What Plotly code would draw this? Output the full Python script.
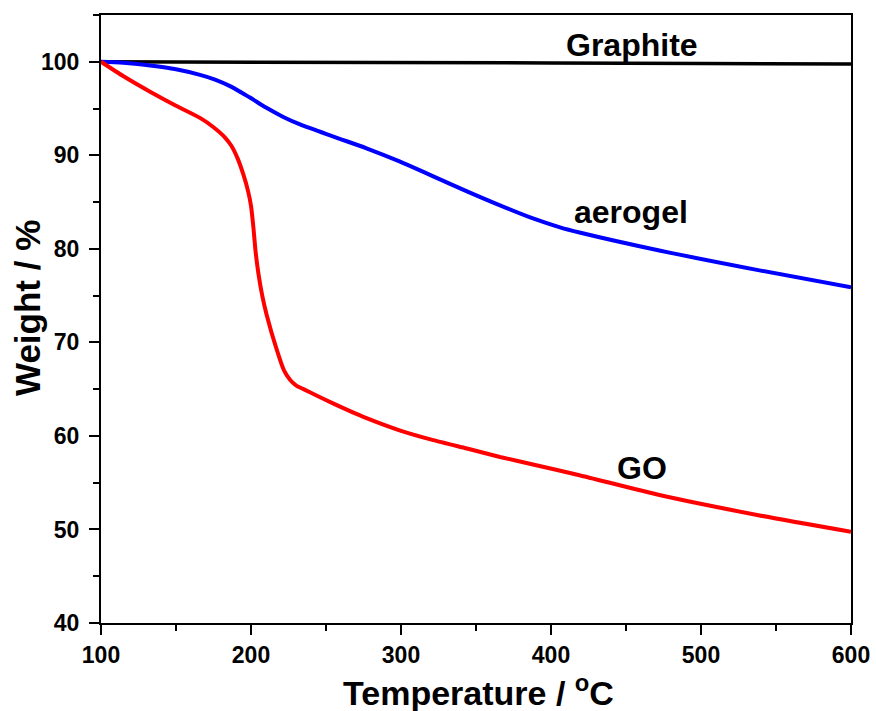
import plotly.graph_objects as go

# Graphite
graphite_T = [100, 200, 300, 400, 500, 600]
graphite_W = [100.0, 99.98, 99.93, 99.88, 99.82, 99.75]

# Aerogel
aerogel_T = [100, 115, 132.7, 150, 166, 176, 186, 199, 210, 221.5, 232.7, 255, 277, 299, 321.5, 344, 366, 388, 406, 419, 473, 539, 600]
aerogel_W = [100, 99.9, 99.6, 99.2, 98.6, 98.1, 97.4, 96.2, 95.1, 94.1, 93.3, 92.0, 90.75, 89.35, 87.75, 86.15, 84.65, 83.25, 82.3, 81.75, 79.8, 77.7, 75.9]

# GO
go_T = [100, 115, 132.7, 150, 166, 175, 182.7, 187, 191, 195, 198, 200, 201.6, 203, 205, 207.5, 210.5, 217, 222, 226, 230, 235, 244, 255, 266, 277, 299, 321.5, 344, 366, 388, 419, 473, 539, 600]
go_W = [100, 98.45, 96.8, 95.3, 94.0, 93.0, 91.9, 91.0, 89.7, 87.9, 86.2, 84.6, 82.3, 79.8, 77.3, 75.0, 72.9, 69.3, 67.0, 66.0, 65.4, 65.0, 64.3, 63.45, 62.65, 61.9, 60.6, 59.55, 58.65, 57.75, 56.95, 55.8, 53.65, 51.5, 49.75]

x_ticks = [100, 200, 300, 400, 500, 600]
y_ticks = [40, 50, 60, 70, 80, 90, 100]

FONT = "Liberation Sans, Arial, sans-serif"

fig = go.Figure()
fig.add_trace(go.Scatter(x=graphite_T, y=graphite_W, mode="lines",
                         line=dict(color="black", width=3.5), name="Graphite"))
fig.add_trace(go.Scatter(x=aerogel_T, y=aerogel_W, mode="lines",
                         line=dict(color="#0000ff", width=4, shape="spline", smoothing=0.8), name="aerogel"))
fig.add_trace(go.Scatter(x=go_T, y=go_W, mode="lines",
                         line=dict(color="#ff0000", width=4, shape="spline", smoothing=0.6), name="GO"))

fig.update_layout(
    width=876, height=711,
    margin=dict(l=101, r=25, t=15, b=88, autoexpand=False),
    paper_bgcolor="white", plot_bgcolor="white",
    showlegend=False,
    font=dict(family=FONT, color="black"),
)

fig.update_xaxes(
    range=[100, 600], tickvals=x_ticks, ticktext=[f"<b>{v}</b>" for v in x_ticks],
    ticks="outside", ticklen=10, tickwidth=2, tickcolor="black",
    minor=dict(dtick=50, tick0=100, ticks="outside", ticklen=6, tickwidth=2, tickcolor="black"),
    showline=True, linewidth=2, linecolor="black", mirror=True,
    showgrid=False, zeroline=False, automargin=False,
    tickfont=dict(size=23, family=FONT, color="black"),
)
fig.update_yaxes(
    range=[40, 105], tickvals=y_ticks, ticktext=[f"<b>{v}</b>" for v in y_ticks],
    ticks="outside", ticklen=10, tickwidth=2, tickcolor="black",
    minor=dict(dtick=5, tick0=40, ticks="outside", ticklen=6, tickwidth=2, tickcolor="black"),
    showline=True, linewidth=2, linecolor="black", mirror=True,
    showgrid=False, zeroline=False, ticklabelstandoff=5, automargin=False,
    tickfont=dict(size=23, family=FONT, color="black"),
)

# Axis titles
fig.add_annotation(text="<b>Temperature / <sup>o</sup>C</b>", xref="paper", yref="paper",
                   x=(478 - 101) / 750, y=-(690 - 623) / 608, xanchor="center", yanchor="middle",
                   showarrow=False, font=dict(size=34, family=FONT, color="black"))
fig.add_annotation(text="<b>Weight / %</b>", xref="paper", yref="paper",
                   x=-(101 - 27) / 750, y=(623 - 308) / 608, xanchor="center", yanchor="middle",
                   textangle=-90, showarrow=False, font=dict(size=35, family=FONT, color="black"))

# Curve labels
fig.add_annotation(text="<b>Graphite</b>", x=454, y=101.8, xref="x", yref="y",
                   showarrow=False, font=dict(size=32, family=FONT, color="black"))
fig.add_annotation(text="<b>aerogel</b>", x=453.5, y=83.9, xref="x", yref="y",
                   showarrow=False, font=dict(size=32, family=FONT, color="black"))
fig.add_annotation(text="<b>GO</b>", x=460.5, y=56.6, xref="x", yref="y",
                   showarrow=False, font=dict(size=32, family=FONT, color="black"))

fig.write_html("out.html", config={"displayModeBar": False},
               post_script="document.body.style.margin='0';document.body.style.overflow='hidden';")
